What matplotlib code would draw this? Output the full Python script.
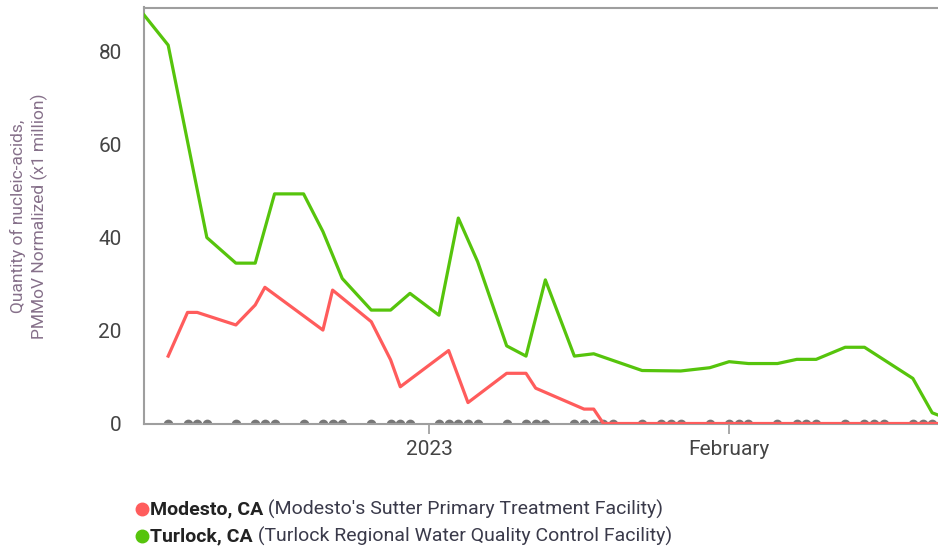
import pandas as pd
import matplotlib
matplotlib.use("Agg")
import matplotlib.pyplot as plt
import matplotlib.dates as mdates
from matplotlib.lines import Line2D

plt.rcParams['font.family'] = ['Roboto', 'DejaVu Sans']

# values (x1 million)
turlock_dates = ["2022-12-02", "2022-12-05", "2022-12-09", "2022-12-12", "2022-12-14",
                 "2022-12-16", "2022-12-19", "2022-12-21", "2022-12-23", "2022-12-26",
                 "2022-12-28", "2022-12-30", "2023-01-02", "2023-01-04", "2023-01-06",
                 "2023-01-09", "2023-01-11", "2023-01-13", "2023-01-16", "2023-01-18",
                 "2023-01-23", "2023-01-27", "2023-01-30", "2023-02-01", "2023-02-03",
                 "2023-02-06", "2023-02-08", "2023-02-10", "2023-02-13", "2023-02-15",
                 "2023-02-20", "2023-02-22", "2023-02-23"]
turlock_vals = [89.2, 81.4, 40.0, 34.5, 34.5,
                49.4, 49.4, 41.3, 31.2, 24.4,
                24.4, 28.0, 23.3, 44.2, 34.8,
                16.7, 14.5, 30.9, 14.5, 15.0,
                11.4, 11.3, 12.0, 13.3, 12.9,
                12.9, 13.8, 13.8, 16.4, 16.4,
                9.7, 2.3, 1.5]

modesto_dates = ["2022-12-05", "2022-12-07", "2022-12-08", "2022-12-12", "2022-12-14",
                 "2022-12-15", "2022-12-21", "2022-12-22", "2022-12-26", "2022-12-28",
                 "2022-12-29", "2023-01-03", "2023-01-05", "2023-01-09", "2023-01-11",
                 "2023-01-12", "2023-01-17", "2023-01-18", "2023-01-19", "2023-02-23"]
modesto_vals = [14.5, 23.9, 23.9, 21.2, 25.5,
                29.3, 20.1, 28.7, 21.9, 13.7,
                7.9, 15.7, 4.5, 10.8, 10.8,
                7.6, 3.1, 3.1, 0.0, 0.0]

sample_dates = ["2022-12-05", "2022-12-07", "2022-12-08", "2022-12-09",
                "2022-12-12", "2022-12-14", "2022-12-15", "2022-12-16",
                "2022-12-19", "2022-12-21", "2022-12-22", "2022-12-23",
                "2022-12-26", "2022-12-28", "2022-12-29", "2022-12-30",
                "2023-01-02", "2023-01-03", "2023-01-04", "2023-01-05", "2023-01-06",
                "2023-01-09", "2023-01-11", "2023-01-12", "2023-01-13",
                "2023-01-16", "2023-01-17", "2023-01-18", "2023-01-19", "2023-01-20",
                "2023-01-23", "2023-01-25", "2023-01-26", "2023-01-27",
                "2023-01-30", "2023-02-01", "2023-02-02", "2023-02-03",
                "2023-02-06", "2023-02-08", "2023-02-09", "2023-02-10",
                "2023-02-13", "2023-02-15", "2023-02-16", "2023-02-17",
                "2023-02-20", "2023-02-21", "2023-02-22"]

tick_dates = ["2023-01-01", "2023-02-01"]
tick_labels = ["2023", "February"]
y_ticks = [0, 20, 40, 60, 80]

red = "#ff5c5c"
green = "#56c40c"

fig = plt.figure(figsize=(9.38, 5.52), dpi=100)
ax = fig.add_axes([144/938, 1 - 423.5/552, 1 - 144/938, 416/552])

ax.plot(pd.to_datetime(sample_dates), [0]*len(sample_dates), 'o', color="#777777",
        markersize=6, zorder=2)
ax.plot(pd.to_datetime(modesto_dates), modesto_vals, color=red, linewidth=2.3, zorder=3)
ax.plot(pd.to_datetime(turlock_dates), turlock_vals, color=green, linewidth=2.3, zorder=4)

jan1 = pd.Timestamp("2023-01-01")
ax.set_xlim(jan1 - pd.Timedelta(days=29.5), jan1 + pd.Timedelta(days=52.6))
ax.set_ylim(0, 89.5)

ax.set_xticks(pd.to_datetime(tick_dates))
ax.set_xticklabels(tick_labels)
ax.set_yticks(y_ticks)
ax.tick_params(axis='y', length=0, pad=16, labelsize=15, labelcolor="#444444")
ax.tick_params(axis='x', length=7, width=1.2, color="#999999", pad=5, labelsize=15,
               labelcolor="#444444")

for side in ['left', 'top', 'bottom']:
    ax.spines[side].set_color("#9e9e9e")
    ax.spines[side].set_linewidth(1.5)
ax.spines['right'].set_visible(False)

fig.text(29/938, 1 - 216/552, "Quantity of nucleic-acids,\nPMMoV Normalized (x1 million)",
         rotation=90, ha='center', va='center', fontsize=12.5, color="#86708a",
         linespacing=1.35)

# legend under the chart
rows = [("Modesto, CA", " (Modesto's Sutter Primary Treatment Facility)", red, 509),
        ("Turlock, CA", " (Turlock Regional Water Quality Control Facility)", green, 536)]
fig.canvas.draw()
renderer = fig.canvas.get_renderer()
for name, desc, col, ypix in rows:
    y = 1 - ypix/552
    fig.add_artist(Line2D([142/938], [y], marker='o', markersize=9, color=col,
                          linestyle='None', transform=fig.transFigure))
    t = fig.text(150/938, y, name, fontsize=14, fontweight='bold', color="#222222",
                 va='center', ha='left')
    w = t.get_window_extent(renderer).width
    fig.text(150/938 + w/938, y, desc, fontsize=14, color="#3a3a4a",
             va='center', ha='left')

fig.savefig("out.png", dpi=100)
